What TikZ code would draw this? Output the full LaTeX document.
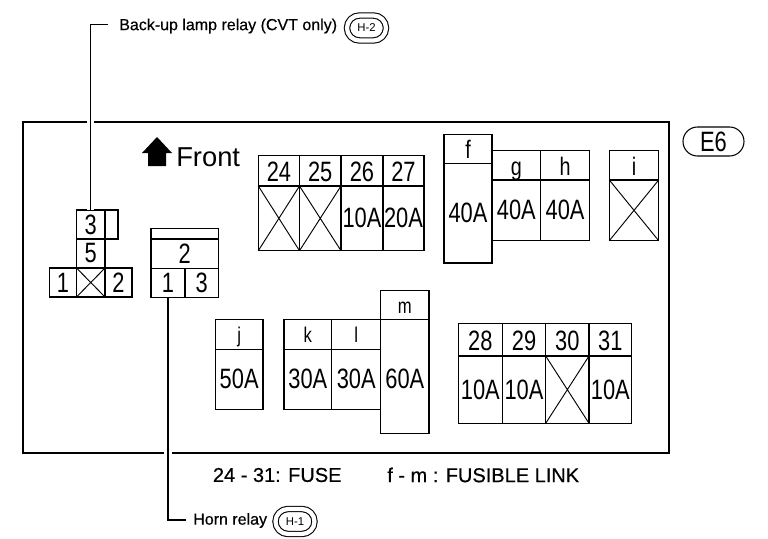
\documentclass[tikz,border=0pt]{standalone}
\usepackage{fontspec}
\setmainfont{Liberation Sans}
\newfontfamily\narrowfont[FakeStretch=0.78]{Liberation Sans}
\newfontfamily\heavyfont[FakeBold=0.5]{Liberation Sans}
\usetikzlibrary{shapes.misc}
\tikzset{
	cell/.style 2 args={draw,inner sep=0pt,outer sep=0pt,line width=0.9pt,minimum width=#1*0.75pt,minimum height=#2*0.75pt,font=\narrowfont\fontsize{21}{22}\selectfont},
	head/.style={text height=15.8pt,text depth=0pt},
	linkhead/.style={font=\narrowfont\fontsize{19}{20}\selectfont,text height=14.7pt,text depth=0pt},
	smallhead/.style={font=\narrowfont\fontsize{16}{17}\selectfont,text height=12.3pt,text depth=0pt},
	lead/.style={line width=0.9pt,preaction={draw,white,line width=5.5pt}},
	oval/.style 2 args={rounded rectangle,draw,inner sep=0pt,line width=0.8pt,minimum width=#1*0.75pt,minimum height=#2*0.75pt},
	tag/.style={oval={39}{25},double,double distance=3.2pt,font=\fontsize{8.5}{9}\selectfont},
	caption/.style={inner sep=0pt,anchor=west}
}
\begin{document}
\begin{tikzpicture}[x=0.75pt,y=0.75pt,yscale=-1,xscale=1]
	\useasboundingbox (0,0) rectangle (768,539);

	% housing
	\draw [line width=2.2pt] (23,122) rectangle (669,453);

	% left relay
	\node [cell={28.5}{29}] (relayA3) at (90.75,224.5) {3};
	\node [cell={13}{29}] (relayAtab) at (111.5,224.5) {};
	\node [cell={28.5}{29}] (relayA5) at (90.75,253.5) {5};
	\node [cell={27}{29}] (relayA1) at (63,282.5) {1};
	\node [cell={28.5}{29}] (relayAx) at (90.75,282.5) {};
	\node [cell={27}{29}] (relayA2) at (118.5,282.5) {2};

	% second relay
	\node [cell={67.5}{10.5}] (relayBtop) at (184.75,233.75) {};
	\node [cell={67.5}{29.5}] (relayB2) at (184.75,253.75) {2};
	\node [cell={34}{29}] (relayB1) at (168,283) {1};
	\node [cell={33.5}{29}] (relayB3) at (201.75,283) {3};

	% leaders
	\coordinate (backupEnd) at (108,24.5);
	\coordinate (hornEnd) at (186,520);
	\draw [lead] (backupEnd) -| (relayA3.north);
	\draw [lead] (relayB1.south) |- (hornEnd);
	\node [caption,font=\heavyfont\fontsize{12}{14}\selectfont] (backupText) at (119,26) {Back-up lamp relay (CVT only)};
	\node [tag] (tagTwo) at (366.5,28) {H-2};
	\node [caption,font=\heavyfont\fontsize{12}{14}\selectfont] (hornText) at (193,520.5) {Horn relay};
	\node [tag] (tagOne) at (295,521.5) {H-1};

	% front mark
	\fill (157,137) -- (172,153) -- (166,153) -- (166,166) -- (148,166) -- (148,153) -- (142,153) -- cycle;
	\node [caption,font=\fontsize{20.5}{22}\selectfont] (frontText) at (176,157) {Front};

	% fuses 24 - 27
	\node [cell={41.2}{30.3},head] (h24) at (278.9,170.85) {24};
	\node [cell={41.5}{30.3},head] (h25) at (320.25,170.85) {25};
	\node [cell={42}{30.3},head] (h26) at (362,170.85) {26};
	\node [cell={41}{30.3},head] (h27) at (403.5,170.85) {27};
	\node [cell={41.2}{64.7}] (b24) at (278.9,218.35) {};
	\node [cell={41.5}{64.7}] (b25) at (320.25,218.35) {};
	\node [cell={42}{64.7}] (b26) at (362,218.35) {10A};
	\node [cell={41}{64.7}] (b27) at (403.5,218.35) {20A};

	% links f - i
	\node [cell={48}{29},linkhead] (hf) at (468,149) {f};
	\node [cell={48}{99.5}] (bf) at (468,213.25) {40A};
	\node [cell={48.7}{29.3},linkhead] (hg) at (516.35,165.35) {g};
	\node [cell={48.7}{60.7}] (bg) at (516.35,210.35) {40A};
	\node [cell={48.8}{29.3},linkhead] (hh) at (565.1,165.35) {h};
	\node [cell={48.8}{60.7}] (bh) at (565.1,210.35) {40A};
	\node [cell={49.4}{29.3},linkhead] (hi) at (634,165.35) {i};
	\node [cell={49.4}{60.7}] (bi) at (634,210.35) {};

	% links j - m
	\node [cell={47.7}{30},smallhead] (hj) at (239.15,334.3) {j};
	\node [cell={47.7}{60}] (bj) at (239.15,379.3) {50A};
	\node [cell={47.7}{30},smallhead] (hk) at (307.85,334.3) {k};
	\node [cell={47.7}{60}] (bk) at (307.85,379.3) {30A};
	\node [cell={49}{30},smallhead] (hl) at (356.2,334.3) {l};
	\node [cell={49}{60}] (bl) at (356.2,379.3) {30A};
	\node [cell={48.3}{28.6},smallhead] (hm) at (404.85,305) {m};
	\node [cell={48.3}{114}] (bm) at (404.85,376.3) {};
	\node [inner sep=0pt,font=\narrowfont\fontsize{21}{22}\selectfont] (lm) at (404.85,379) {60A};

	% fuses 28 - 31
	\node [cell={44}{32.7},head] (h28) at (480.3,339.65) {28};
	\node [cell={43.4}{32.7},head] (h29) at (524,339.65) {29};
	\node [cell={43.3}{32.7},head] (h30) at (567.35,339.65) {30};
	\node [cell={42.7}{32.7},head] (h31) at (610.35,339.65) {31};
	\node [cell={44}{67.3}] (b28) at (480.3,389.65) {10A};
	\node [cell={43.4}{67.3}] (b29) at (524,389.65) {10A};
	\node [cell={43.3}{67.3}] (b30) at (567.35,389.65) {};
	\node [cell={42.7}{67.3}] (b31) at (610.35,389.65) {10A};

	% empty positions
	\foreach \pos in {relayAx,b24,b25,bi,b30}
		\draw [line width=0.7pt] (\pos.north west) -- (\pos.south east) (\pos.south west) -- (\pos.north east);

	\node [oval={61}{29},font=\narrowfont\fontsize{21}{22}\selectfont] (connector) at (713.5,141.5) {E6};

	% legend
	\node [caption,font=\heavyfont\fontsize{15}{17}\selectfont] (fuseText) at (212.7,475) {24 - 31: FUSE};
	\node [caption,font=\heavyfont\fontsize{15}{17}\selectfont] (linkText) at (387,475) {f - m : FUSIBLE LINK};
\end{tikzpicture}
\end{document}
